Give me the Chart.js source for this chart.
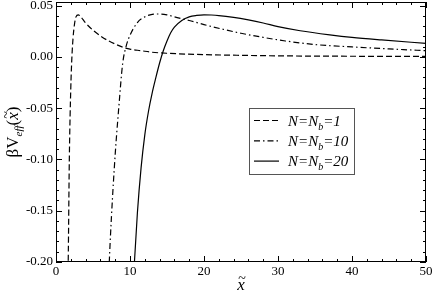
<!DOCTYPE html>
<html>
<head>
<meta charset="utf-8">
<script src="https://cdn.jsdelivr.net/npm/chart.js@4/dist/chart.umd.min.js"></script>
<style>
  html, body { margin: 0; padding: 0; background: #fff; }
  canvas { display: block; }
</style>
</head>
<body>
<canvas id="chart" width="436" height="293"></canvas>
<script>
"use strict";

// values
const xTicks = [0, 10, 20, 30, 40, 50];
const yTicks = [-0.2, -0.15, -0.1, -0.05, 0, 0.05];

const n1X = [1.5, 1.65, 1.8, 2.0, 2.15, 2.3, 2.5, 2.7, 3.0, 3.3, 4, 5, 6, 7, 8, 9, 10, 11.5, 13, 15, 20, 25, 30, 40, 50];
const n1Y = [-0.26, -0.2, -0.1, -0.03, 0.0, 0.018, 0.032, 0.039, 0.041, 0.0395, 0.033, 0.026, 0.0205, 0.016, 0.0125, 0.0095, 0.0075, 0.006, 0.0045, 0.0035, 0.0022, 0.0015, 0.001, 0.0006, 0.0004];

const n10X = [7.0, 7.2, 7.5, 8.0, 8.5, 9.0, 9.5, 10, 11, 12, 13, 14, 15, 16, 18, 20, 22.5, 25, 28, 31, 35, 40, 45, 50];
const n10Y = [-0.24, -0.2, -0.155, -0.095, -0.048, -0.007, 0.011, 0.021, 0.0335, 0.039, 0.0415, 0.0418, 0.041, 0.039, 0.0355, 0.0315, 0.027, 0.023, 0.019, 0.0155, 0.012, 0.0097, 0.0078, 0.006];

const n20X = [10.4, 10.6, 11, 11.5, 12, 12.5, 13, 13.5, 14, 14.5, 15, 15.5, 16, 17, 18, 19, 20, 21, 22, 24, 26, 28, 30, 33, 37, 40, 44, 50];
const n20Y = [-0.23, -0.2, -0.152, -0.108, -0.076, -0.053, -0.035, -0.02, -0.006, 0.006, 0.0155, 0.0235, 0.029, 0.0355, 0.039, 0.0404, 0.041, 0.0408, 0.0403, 0.0385, 0.036, 0.033, 0.0295, 0.0255, 0.0215, 0.019, 0.0165, 0.0132];

const seriesLabels = ["1", "10", "20"];
const dashes = [[6, 3], [6, 3, 1.5, 3], []];

const SERIF = "Liberation Serif";

const toPoints = (xs, ys) => xs.map((x, i) => ({ x, y: ys[i] }));

const frameAndTicks = {
    id: "frameAndTicks",
    afterDraw(chart) {
        const { ctx, chartArea: a, scales: { x, y } } = chart;
        ctx.save();
        ctx.strokeStyle = "#000";
        ctx.lineWidth = 1;
        ctx.strokeRect(a.left + 0.5, a.top + 0.5, a.right - a.left - 1, a.bottom - a.top - 1);

        ctx.beginPath();
        // x ticks, inward on bottom and top
        for (let v = 0; v <= 50; v += 2) {
            const px = Math.round(x.getPixelForValue(v)) + 0.5;
            const len = v % 10 === 0 ? 6 : 3;
            ctx.moveTo(px, a.bottom); ctx.lineTo(px, a.bottom - len);
            ctx.moveTo(px, a.top); ctx.lineTo(px, a.top + len);
        }
        // y ticks, inward on left and right
        for (let i = 0; i <= 25; i++) {
            const v = -0.2 + i * 0.01;
            const py = Math.round(y.getPixelForValue(v)) + 0.5;
            const len = i % 5 === 0 ? 6 : 3;
            ctx.moveTo(a.left, py); ctx.lineTo(a.left + len, py);
            ctx.moveTo(a.right, py); ctx.lineTo(a.right - len, py);
        }
        ctx.stroke();

        // legend box
        const bx = 249.5, by = 108.5, bw = 105, bh = 66;
        ctx.strokeStyle = "#555";
        ctx.strokeRect(bx, by, bw, bh);
        ctx.fillStyle = "#000";
        ctx.textBaseline = "alphabetic";
        seriesLabels.forEach((lab, i) => {
            const ry = 120.5 + i * 20.3;
            ctx.strokeStyle = "#000";
            ctx.lineWidth = 1.2;
            ctx.setLineDash(dashes[i]);
            ctx.beginPath();
            ctx.moveTo(254, ry); ctx.lineTo(279, ry);
            ctx.stroke();
            ctx.setLineDash([]);
            let tx = 288;
            const base = ry + 5;
            ctx.font = "italic 15px " + SERIF;
            ctx.fillText("N=N", tx, base);
            tx += ctx.measureText("N=N").width;
            ctx.font = "italic 10px " + SERIF;
            ctx.fillText("b", tx, base + 4);
            tx += ctx.measureText("b").width;
            ctx.font = "italic 15px " + SERIF;
            ctx.fillText("=" + lab, tx, base);
        });

        // x axis title: x with tilde
        const cx = (a.left + a.right) / 2;
        ctx.font = "italic 17px " + SERIF;
        ctx.textAlign = "center";
        ctx.fillText("x", cx, 290);
        ctx.font = "14px " + SERIF;
        ctx.fillText("~", cx + 1, 283);

        // y axis title
        ctx.save();
        ctx.translate(18, (a.top + a.bottom) / 2);
        ctx.rotate(-Math.PI / 2);
        ctx.textAlign = "left";
        const parts = [
            { t: "\u03b2V", f: "17px " + SERIF, dy: 0 },
            { t: "eff", f: "italic 11px " + SERIF, dy: 4 },
            { t: "(", f: "17px " + SERIF, dy: 0 },
            { t: "x", f: "italic 17px " + SERIF, dy: 0, tilde: true },
            { t: ")", f: "17px " + SERIF, dy: 0 }
        ];
        let total = 0;
        parts.forEach((p) => { ctx.font = p.f; p.w = ctx.measureText(p.t).width; total += p.w; });
        let tx = -total / 2;
        parts.forEach((p) => {
            ctx.font = p.f;
            ctx.fillText(p.t, tx, p.dy);
            if (p.tilde) {
                ctx.font = "14px " + SERIF;
                ctx.fillText("~", tx + 1, -7);
            }
            tx += p.w;
        });
        ctx.restore();
        ctx.restore();
    }
};

new Chart(document.getElementById("chart").getContext("2d"), {
    type: "line",
    data: {
        datasets: [
            { label: "N=Nb=1", data: toPoints(n1X, n1Y), borderDash: dashes[0] },
            { label: "N=Nb=10", data: toPoints(n10X, n10Y), borderDash: dashes[1] },
            { label: "N=Nb=20", data: toPoints(n20X, n20Y), borderDash: dashes[2] }
        ].map((d) => Object.assign(d, {
            borderColor: "#000",
            borderWidth: 1.2,
            pointRadius: 0,
            fill: false,
            cubicInterpolationMode: "monotone"
        }))
    },
    options: {
        responsive: false,
        animation: false,
        devicePixelRatio: 1,
        layout: { padding: { top: 2, right: 10, left: 0, bottom: 0 } },
        plugins: { legend: { display: false }, tooltip: { enabled: false } },
        scales: {
            x: {
                type: "linear",
                min: 0,
                max: 50,
                grid: { display: false, drawTicks: false },
                border: { display: false },
                afterFit: (s) => { s.height = 31; s.paddingLeft = 0; s.paddingRight = 0; },
                afterBuildTicks: (s) => { s.ticks = xTicks.map((v) => ({ value: v })); },
                ticks: {
                    color: "#000",
                    padding: 2,
                    maxRotation: 0,
                    font: { family: SERIF, size: 13 },
                    callback: (v) => String(v)
                }
            },
            y: {
                type: "linear",
                min: -0.2,
                max: 0.0535,
                grid: { display: false, drawTicks: false },
                border: { display: false },
                afterFit: (s) => { s.width = 56; s.paddingTop = 0; s.paddingBottom = 0; },
                afterBuildTicks: (s) => { s.ticks = yTicks.map((v) => ({ value: v })); },
                ticks: {
                    color: "#000",
                    padding: 3,
                    font: { family: SERIF, size: 13 },
                    callback: (v) => Number(v).toFixed(2)
                }
            }
        }
    },
    plugins: [frameAndTicks]
});
</script>
</body>
</html>
